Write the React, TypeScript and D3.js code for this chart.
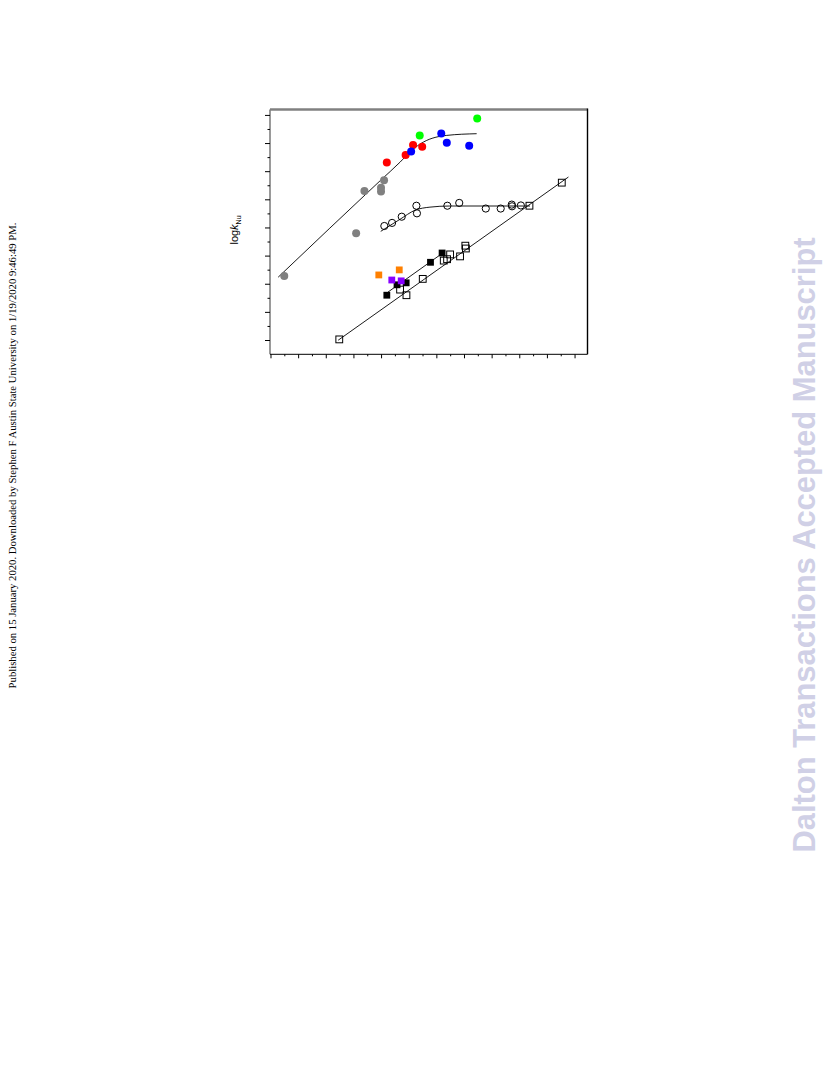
import React from "react";
import * as d3 from "d3";

// ---- data (x in major-tick units 0..11, y in major-tick units 0..8) ----
const grayCircles: [number, number][] = [
  [0.48, 2.29], [3.08, 3.81], [3.38, 5.31], [3.98, 5.43], [3.98, 5.30], [4.09, 5.70],
];
const redCircles: [number, number][] = [
  [4.19, 6.33], [4.87, 6.59], [5.14, 6.95], [5.47, 6.89],
];
const blueCircles: [number, number][] = [
  [5.07, 6.72], [6.16, 7.36], [6.36, 7.03], [7.17, 6.92],
];
const greenCircles: [number, number][] = [
  [5.38, 7.29], [7.46, 7.89],
];
const openCircles: [number, number][] = [
  [4.10, 4.07], [4.38, 4.18], [4.73, 4.40], [5.26, 4.79], [5.28, 4.52], [6.38, 4.79],
  [6.81, 4.89], [7.77, 4.69], [8.31, 4.69], [8.71, 4.83], [8.72, 4.77], [9.04, 4.80],
];
const openSquares: [number, number][] = [
  [2.47, 0.04], [4.67, 1.81], [4.90, 1.61], [5.49, 2.19], [6.25, 2.84], [6.37, 2.89],
  [6.48, 3.06], [6.84, 2.99], [7.03, 3.37], [7.05, 3.27], [9.35, 4.79], [10.52, 5.61],
];
const blackSquares: [number, number][] = [
  [4.19, 1.61], [4.56, 1.98], [4.89, 2.05], [5.77, 2.78], [6.19, 3.11],
];
const orangeSquares: [number, number][] = [[3.90, 2.33], [4.64, 2.51]];
const purpleSquares: [number, number][] = [[4.37, 2.15], [4.71, 2.12]];

const curve1: [number, number][] = [
  [0.26, 2.25], [3.95, 5.68], [4.67, 6.34], [5.09, 6.76], [5.51, 7.05], [6.36, 7.29], [7.44, 7.35],
];
const curve2: [number, number][] = [
  [3.97, 3.88], [4.67, 4.31], [5.21, 4.63], [5.75, 4.74], [6.47, 4.78], [9.37, 4.78],
];
const line2: [number, number][] = [[4.23, 1.72], [6.30, 3.17]];
const line3: [number, number][] = [[2.43, 0.01], [10.76, 5.81]];

const xMajor = d3.range(0, 12, 1);
const xMinor = d3.range(0.5, 11.5, 1);
const yMajor = d3.range(0, 9, 1);
const yMinor = d3.range(0.5, 8.5, 1);

const yLabel = "log";
const sideText =
  "Published on 15 January 2020. Downloaded by Stephen F Austin State University on 1/19/2020 9:46:49 PM.";
const watermark = "Dalton Transactions Accepted Manuscript";

export default function App() {
  const L = 270, R = 587.5, T = 109.5, B = 354.3;
  const x = d3.scaleLinear().domain([-0.036, 11.45]).range([L, R]);
  const y = d3.scaleLinear().domain([-0.49, 8.21]).range([B, T]);
  const line = d3.line<[number, number]>().x((d) => x(d[0])).y((d) => y(d[1]));
  const smooth = d3
    .line<[number, number]>()
    .x((d) => x(d[0]))
    .y((d) => y(d[1]))
    .curve(d3.curveMonotoneX);

  const circles = (data: [number, number][], fill: string, key: string, open = false) =>
    data.map((d, i) => (
      <circle
        key={key + i}
        cx={x(d[0])}
        cy={y(d[1])}
        r={open ? 3.6 : 4}
        fill={open ? "none" : fill}
        stroke={open ? "#000" : "none"}
        strokeWidth={1}
      />
    ));
  const squares = (data: [number, number][], fill: string, key: string, open = false) =>
    data.map((d, i) => (
      <rect
        key={key + i}
        x={x(d[0]) - 3.4}
        y={y(d[1]) - 3.4}
        width={6.8}
        height={6.8}
        fill={open ? "none" : fill}
        stroke={open ? "#000" : "none"}
        strokeWidth={1}
      />
    ));

  return (
    <div style={{ position: "absolute", left: 0, top: 0 }}>
      <svg width={833} height={1091} style={{ display: "block", background: "#fff" }}>
        {/* side text */}
        <text
          transform={`translate(16,455.5) rotate(-90)`}
          textAnchor="middle"
          fontFamily="Liberation Serif, serif"
          fontSize={10.7}
          fill="#000"
        >
          {sideText}
        </text>
        {/* watermark */}
        <text
          transform={`translate(815,545) rotate(-90)`}
          textAnchor="middle"
          fontFamily="Liberation Sans, Arial, sans-serif"
          fontWeight="bold"
          fontSize={30.9}
          fill="#d0d0e6"
        >
          {watermark}
        </text>

        {/* frame */}
        <line x1={L} x2={L} y1={T} y2={B} stroke="#808080" strokeWidth={1.6} />
        <line x1={L} x2={R} y1={T} y2={T} stroke="#808080" strokeWidth={2.4} />
        <line x1={R} x2={R} y1={T - 1} y2={B} stroke="#000" strokeWidth={1.4} />
        <line x1={L} x2={R} y1={B} y2={B} stroke="#000" strokeWidth={1} />

        {/* ticks */}
        {yMajor.map((v) => (
          <line key={"ym" + v} x1={L - 5} x2={L} y1={y(v)} y2={y(v)} stroke="#000" strokeWidth={1} />
        ))}
        {yMinor.map((v) => (
          <line key={"yn" + v} x1={L - 2.5} x2={L} y1={y(v)} y2={y(v)} stroke="#000" strokeWidth={1} />
        ))}
        {xMajor.map((v) => (
          <line key={"xm" + v} x1={x(v)} x2={x(v)} y1={B} y2={B + 4} stroke="#000" strokeWidth={1} />
        ))}
        {xMinor.map((v) => (
          <line key={"xn" + v} x1={x(v)} x2={x(v)} y1={B} y2={B + 2} stroke="#000" strokeWidth={1} />
        ))}

        {/* y label */}
        <text
          transform={`translate(238,230) rotate(-90)`}
          textAnchor="middle"
          fontFamily="Liberation Sans, Arial, sans-serif"
          fontSize={11}
          fill="#000"
        >
          {yLabel}
          <tspan fontStyle="italic">k</tspan>
          <tspan fontSize={7} dy={3}>Nu</tspan>
        </text>

        {/* fit lines */}
        <path d={smooth(curve1) || ""} fill="none" stroke="#000" strokeWidth={0.9} />
        <path d={smooth(curve2) || ""} fill="none" stroke="#000" strokeWidth={0.9} />
        <path d={line(line2) || ""} fill="none" stroke="#000" strokeWidth={0.9} />
        <path d={line(line3) || ""} fill="none" stroke="#000" strokeWidth={0.9} />

        {/* markers */}
        {circles(grayCircles, "#808080", "g")}
        {circles(redCircles, "#ff0000", "r")}
        {circles(blueCircles, "#0000ff", "b")}
        {circles(greenCircles, "#00ff00", "gr")}
        {circles(openCircles, "none", "oc", true)}
        {squares(openSquares, "none", "os", true)}
        {squares(blackSquares, "#000", "bs")}
        {squares(orangeSquares, "#ff8000", "or")}
        {squares(purpleSquares, "#8800ff", "pu")}
      </svg>
    </div>
  );
}
